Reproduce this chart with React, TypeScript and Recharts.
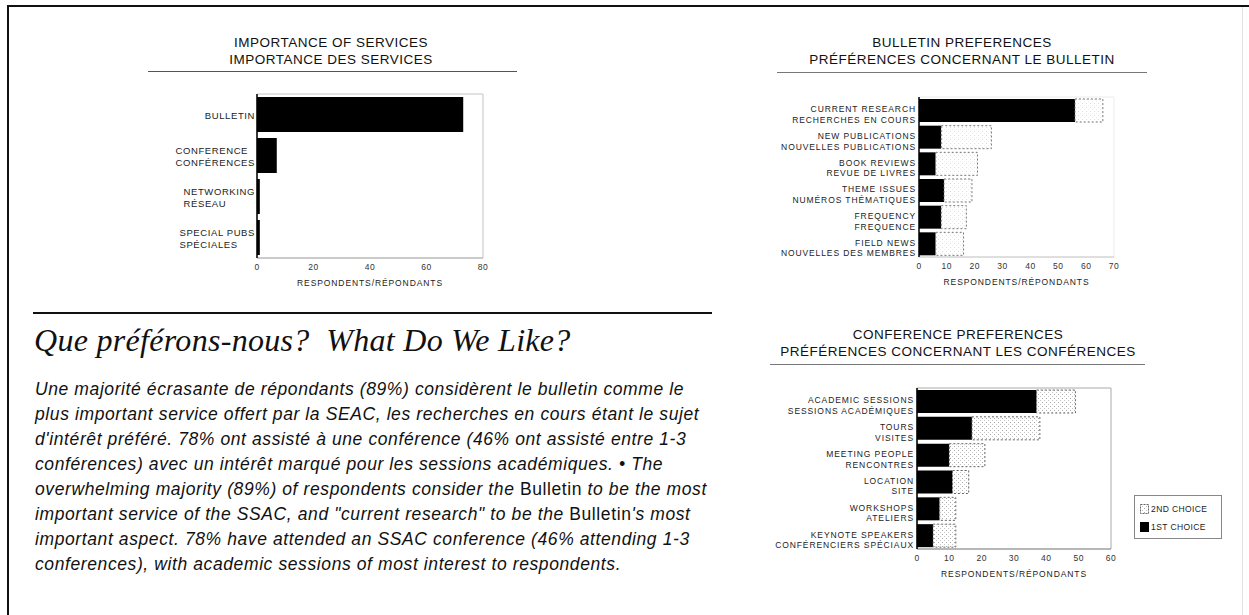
import React from 'react';
import { BarChart, Bar, XAxis, YAxis, ReferenceArea, Label } from 'recharts';

// importance of services
const serviceLabels = ['BULLETIN', 'CONFERENCE', 'NETWORKING', 'SPECIAL PUBS'];
const serviceLabelsFr = ['', 'CONFÉRENCES', 'RÉSEAU', 'SPÉCIALES'];
const serviceValues = [73, 7, 1, 1];
const serviceTicks = [0, 20, 40, 60, 80];

// bulletin preferences
const bulletinLabels = ['CURRENT RESEARCH', 'NEW PUBLICATIONS', 'BOOK REVIEWS', 'THEME ISSUES', 'FREQUENCY', 'FIELD NEWS'];
const bulletinLabelsFr = ['RECHERCHES EN COURS', 'NOUVELLES PUBLICATIONS', 'REVUE DE LIVRES', 'NUMÉROS THÉMATIQUES', 'FREQUENCE', 'NOUVELLES DES MEMBRES'];
const bulletinFirst = [56, 8, 6, 9, 8, 6];
const bulletinSecond = [10, 18, 15, 10, 9, 10];
const bulletinTicks = [0, 10, 20, 30, 40, 50, 60, 70];

// conference preferences
const conferenceLabels = ['ACADEMIC SESSIONS', 'TOURS', 'MEETING PEOPLE', 'LOCATION', 'WORKSHOPS', 'KEYNOTE SPEAKERS'];
const conferenceLabelsFr = ['SESSIONS ACADÉMIQUES', 'VISITES', 'RENCONTRES', 'SITE', 'ATELIERS', 'CONFÉRENCIERS SPÉCIAUX'];
const conferenceFirst = [37, 17, 10, 11, 7, 5];
const conferenceSecond = [12, 21, 11, 5, 5, 7];
const conferenceTicks = [0, 10, 20, 30, 40, 50, 60];

const legendItems = ['2ND CHOICE', '1ST CHOICE'];

const paragraph = [
  'Une majorité écrasante de répondants (89%) considèrent le bulletin comme le',
  'plus important service offert par la SEAC, les recherches en cours étant le sujet',
  "d'intérêt préféré. 78% ont assisté à une conférence (46% ont assisté entre 1-3",
  'conférences) avec un intérêt marqué pour les sessions académiques. • The',
  'overwhelming majority (89%) of respondents consider the Bulletin to be the most',
  'important service of the SSAC, and "current research" to be the Bulletin\'s most',
  'important aspect. 78% have attended an SSAC conference (46% attending 1-3',
  'conferences), with academic sessions of most interest to respondents.',
];

const SANS = '"Liberation Sans", Arial, sans-serif';
const SERIF = '"Liberation Serif", "Times New Roman", serif';

const serviceData = serviceLabels.map((en, i) => ({ en, fr: serviceLabelsFr[i], value: serviceValues[i] }));
const bulletinData = bulletinLabels.map((en, i) => ({ en, fr: bulletinLabelsFr[i], first: bulletinFirst[i], second: bulletinSecond[i] }));
const conferenceData = conferenceLabels.map((en, i) => ({ en, fr: conferenceLabelsFr[i], first: conferenceFirst[i], second: conferenceSecond[i] }));

const tickText = { fontFamily: SANS, fontSize: 8.5, letterSpacing: 0.9, fill: '#222' };

// left chart: label pairs are left aligned as a block, block sits against the axis
const BlockTick = (props: any) => {
  const { x, y, payload } = props;
  const i = serviceLabels.indexOf(payload.value);
  const fr = serviceLabelsFr[i];
  return (
    <foreignObject x={x - 120} y={y - 14} width={120} height={30}>
      <div style={{ display: 'flex', justifyContent: 'flex-end', alignItems: 'center', height: '100%' }}>
        <div style={{ textAlign: 'left', fontFamily: SANS, fontSize: 9.5, lineHeight: '12px', letterSpacing: 0.6, color: '#222' }}>
          <div>{payload.value}</div>
          {fr ? <div>{fr}</div> : null}
        </div>
      </div>
    </foreignObject>
  );
};

const makePairTick = (labels: string[], fr: string[]) => (props: any) => {
  const { x, y, payload } = props;
  const i = labels.indexOf(payload.value);
  return (
    <g>
      <text x={x} y={y - 1} textAnchor="end" dominantBaseline="central" style={tickText}>{payload.value}</text>
      <text x={x} y={y + 9.5} textAnchor="end" dominantBaseline="central" style={tickText}>{fr[i]}</text>
    </g>
  );
};

const BulletinTick = makePairTick(bulletinLabels, bulletinLabelsFr);
const ConferenceTick = makePairTick(conferenceLabels, conferenceLabelsFr);

const axisTick = { fontFamily: SANS, fontSize: 8.5, letterSpacing: 0.5, fill: '#333' };
const axisLabelStyle = { fontFamily: SANS, fontSize: 8.5, letterSpacing: 0.9, fill: '#222' };

const Title = ({ lines, cx, top, lh }: { lines: string[]; cx: number; top: number; lh: number }) => (
  <div style={{ position: 'absolute', left: cx - 220, top, width: 440, textAlign: 'center', fontFamily: SANS, fontSize: 13.5, lineHeight: `${lh}px`, letterSpacing: 0.5, color: '#111' }}>
    {lines.map((l) => <div key={l}>{l}</div>)}
  </div>
);

const Rule = ({ x1, x2, y, h = 1, c = '#555' }: { x1: number; x2: number; y: number; h?: number; c?: string }) => (
  <div style={{ position: 'absolute', left: x1, top: y, width: x2 - x1, height: h, background: c }} />
);

// "Bulletin" is set upright in the english half of the paragraph
const ParaLine = ({ text }: { text: string }) => (
  <div>
    {text.split(/(Bulletin)/).map((part, k) =>
      part === 'Bulletin' ? <span key={k} style={{ fontStyle: 'normal' }}>{part}</span> : <span key={k}>{part}</span>
    )}
  </div>
);

export default function App() {
  return (
    <div style={{ position: 'absolute', left: 0, top: 0, width: 1249, height: 615, background: '#fff', overflow: 'hidden' }}>
      <svg width={0} height={0} style={{ position: 'absolute' }}>
        <defs>
          <pattern id="stipple" width={4} height={4} patternUnits="userSpaceOnUse">
            <rect width={4} height={4} fill="#fff" />
            <rect x={0} y={0} width={1} height={1} fill="#a8a8a8" />
            <rect x={2} y={2} width={1} height={1} fill="#c4c4c4" />
          </pattern>
          <pattern id="stippleLight" width={4} height={4} patternUnits="userSpaceOnUse">
            <rect width={4} height={4} fill="#fff" />
            <rect x={0} y={0} width={1} height={1} fill="#dcdcdc" />
            <rect x={2} y={2} width={1} height={1} fill="#ececec" />
          </pattern>
        </defs>
      </svg>

      {/* frame */}
      <Rule x1={7} x2={1249} y={5} h={2} c="#111" />
      <div style={{ position: 'absolute', left: 7, top: 5, width: 2, height: 610, background: '#111' }} />
      <div style={{ position: 'absolute', left: 1242, top: 7, width: 1, height: 608, background: '#e2e2e2' }} />

      {/* importance of services */}
      <Title lines={['IMPORTANCE OF SERVICES', 'IMPORTANCE DES SERVICES']} cx={331} top={35} lh={16.5} />
      <Rule x1={148} x2={517} y={71} />
      <div style={{ position: 'absolute', left: 150, top: 84 }}>
        <BarChart width={350} height={210} data={serviceData} layout="vertical" margin={{ top: 10, right: 17, bottom: 0, left: 0 }}>
          <ReferenceArea x1={0} x2={80} fill="none" stroke="#c4c4c4" />
          <XAxis type="number" domain={[0, 80]} ticks={serviceTicks} tickLine={false} tickSize={4} tickMargin={2} axisLine={{ stroke: '#b5b5b5' }} tick={axisTick} height={36}>
            <Label value="RESPONDENTS/RÉPONDANTS" position="insideBottom" offset={8} style={axisLabelStyle} />
          </XAxis>
          <YAxis type="category" dataKey="en" width={107} tickLine={false} tickSize={1} tickMargin={1} axisLine={{ stroke: '#000', strokeWidth: 1.5 }} tick={<BlockTick />} interval={0} />
          <Bar dataKey="value" fill="#000" barSize={35} isAnimationActive={false} />
        </BarChart>
      </div>

      {/* bulletin preferences */}
      <Title lines={['BULLETIN PREFERENCES', 'PRÉFÉRENCES CONCERNANT LE BULLETIN']} cx={962} top={35} lh={16.5} />
      <Rule x1={777} x2={1147} y={72} c="#777" />
      <div style={{ position: 'absolute', left: 770, top: 87 }}>
        <BarChart width={370} height={206} data={bulletinData} layout="vertical" margin={{ top: 10, right: 26, bottom: 0, left: 0 }}>
          <ReferenceArea x1={0} x2={70} fill="none" stroke="#ececec" />
          <XAxis type="number" domain={[0, 70]} ticks={bulletinTicks} tickLine={false} tickSize={4} tickMargin={2} axisLine={{ stroke: '#c8c8c8' }} tick={axisTick} height={36}>
            <Label value="RESPONDENTS/RÉPONDANTS" position="insideBottom" offset={8} style={axisLabelStyle} />
          </XAxis>
          <YAxis type="category" dataKey="en" width={149} tickLine={false} tickSize={1} tickMargin={2} axisLine={{ stroke: '#000', strokeWidth: 1.5 }} tick={<BulletinTick />} interval={0} />
          <Bar dataKey="first" stackId="a" fill="#000" barSize={23} isAnimationActive={false} />
          <Bar dataKey="second" stackId="a" fill="url(#stippleLight)" stroke="#777" strokeDasharray="2 2" barSize={23} isAnimationActive={false} />
        </BarChart>
      </div>

      {/* conference preferences */}
      <Title lines={['CONFERENCE PREFERENCES', 'PRÉFÉRENCES CONCERNANT LES CONFÉRENCES']} cx={958} top={326} lh={17} />
      <Rule x1={770} x2={1145} y={364} c="#777" />
      <div style={{ position: 'absolute', left: 770, top: 378 }}>
        <BarChart width={370} height={207} data={conferenceData} layout="vertical" margin={{ top: 10, right: 29, bottom: 0, left: 0 }}>
          <ReferenceArea x1={0} x2={60} fill="none" stroke="#aaa" />
          <XAxis type="number" domain={[0, 60]} ticks={conferenceTicks} tickLine={false} tickSize={4} tickMargin={2} axisLine={{ stroke: '#999' }} tick={axisTick} height={36}>
            <Label value="RESPONDENTS/RÉPONDANTS" position="insideBottom" offset={8} style={axisLabelStyle} />
          </XAxis>
          <YAxis type="category" dataKey="en" width={147} tickLine={false} tickSize={1} tickMargin={2} axisLine={{ stroke: '#000', strokeWidth: 1.5 }} tick={<ConferenceTick />} interval={0} />
          <Bar dataKey="first" stackId="a" fill="#000" barSize={23} isAnimationActive={false} />
          <Bar dataKey="second" stackId="a" fill="url(#stipple)" stroke="#666" strokeDasharray="2 2" barSize={23} isAnimationActive={false} />
        </BarChart>
      </div>

      {/* legend */}
      <div style={{ position: 'absolute', left: 1134, top: 495, width: 86, height: 42, border: '1px solid #888', fontFamily: SANS, fontSize: 8.5, letterSpacing: 0.4, color: '#222' }}>
        {legendItems.map((name, i) => (
          <div key={name} style={{ display: 'flex', alignItems: 'center', height: 12, marginTop: i === 0 ? 7 : 6, marginLeft: 5 }}>
            <svg width={9} height={10} style={{ marginRight: 2 }}>
              <rect x={0.5} y={0.5} width={8} height={9} fill={i === 0 ? 'url(#stipple)' : '#000'} stroke={i === 0 ? '#666' : '#000'} strokeDasharray={i === 0 ? '2 1' : undefined} />
            </svg>
            <span>{name}</span>
          </div>
        ))}
      </div>

      {/* article text */}
      <Rule x1={33} x2={712} y={312} h={2} c="#111" />
      <div style={{ position: 'absolute', left: 34, top: 321, fontFamily: SERIF, fontStyle: 'italic', fontSize: 32, lineHeight: '38px', letterSpacing: 0.3, whiteSpace: 'pre', color: '#111' }}>
        {'Que préférons-nous?  What Do We Like?'}
      </div>
      <div style={{ position: 'absolute', left: 35, top: 377, fontFamily: SANS, fontStyle: 'italic', fontSize: 17.5, lineHeight: '25px', letterSpacing: 0.6, whiteSpace: 'pre', color: '#111' }}>
        {paragraph.map((l) => <ParaLine key={l} text={l} />)}
      </div>
    </div>
  );
}
